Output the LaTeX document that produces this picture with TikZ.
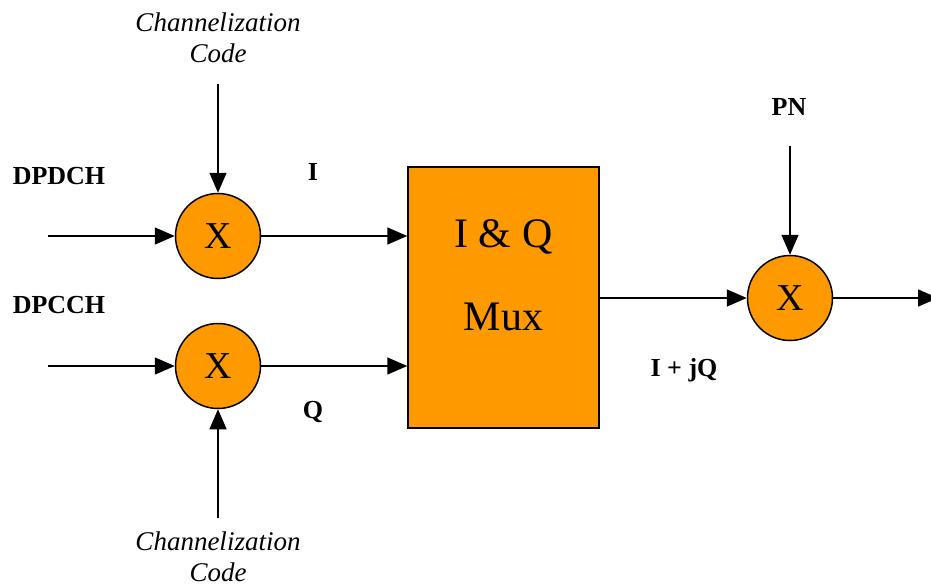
\documentclass[tikz,border=0pt]{standalone}
\usepackage{fontspec}
\setmainfont{Liberation Serif}
\usetikzlibrary{arrows.meta}
\definecolor{muxorange}{HTML}{FF9900}
\tikzset{
  flow/.style={line width=1.5pt, -{Triangle[length=20pt,width=17pt]}},
  mult/.style={circle, draw, line width=1.5pt, fill=muxorange, minimum size=85pt, inner sep=0pt,
               font=\fontsize{38}{38}\selectfont},
  muxbox/.style={draw, line width=1.5pt, fill=muxorange, minimum width=191pt, minimum height=261pt,
                 inner sep=0pt},
  muxtext/.style={inner sep=0pt, font=\fontsize{42}{42}\selectfont},
  sig/.style={font=\bfseries\fontsize{26}{30}\selectfont, inner sep=0pt},
  code/.style={font=\itshape\fontsize{27}{31}\selectfont, align=center, inner sep=0pt}
}
\begin{document}
\begin{tikzpicture}[x=1pt,y=-1pt]
\useasboundingbox (0,0) rectangle (931,586);

% multipliers and multiplexer
\node[mult] (m1) at (218,236) {X};
\node[mult] (m2) at (218,366) {X};
\node[mult] (m3) at (790,298) {X};
\node[muxbox] (mux) at (503.5,297.5) {};
\node[muxtext] (muxa) at (503.5,237) {I \& Q};
\node[muxtext] (muxb) at (503.5,317) {Mux};

% free ends of the connectors
\coordinate (in1) at (48,236);
\coordinate (in2) at (48,366);
\coordinate (c1) at (218,84);
\coordinate (c2) at (218,518);
\coordinate (pn) at (790,146);
\coordinate (out) at (938,298);

% labels
\node[code] (code1) at (218,38) {Channelization\\Code};
\node[code] (code2) at (218,557) {Channelization\\Code};
\node[sig] (dpdch) at (59,176) {DPDCH};
\node[sig] (dpcch) at (59,305) {DPCCH};
\node[sig] (ilab) at (313,172) {I};
\node[sig] (qlab) at (313,412) {Q};
\node[sig] (pnlab) at (789,107) {PN};
\node[sig] (iq) at (684,370) {I + jQ};

% signal flow
\draw[flow] (in1) -- (m1);
\draw[flow] (in2) -- (m2);
\draw[flow] (c1) -- (m1);
\draw[flow] (c2) -- (m2);
\draw[flow] (m1) -- (mux.west |- m1);
\draw[flow] (m2) -- (mux.west |- m2);
\draw[flow] (mux.east |- m3) -- (m3);
\draw[flow] (pn) -- (m3);
\draw[flow] (m3) -- (out);
\end{tikzpicture}
\end{document}
